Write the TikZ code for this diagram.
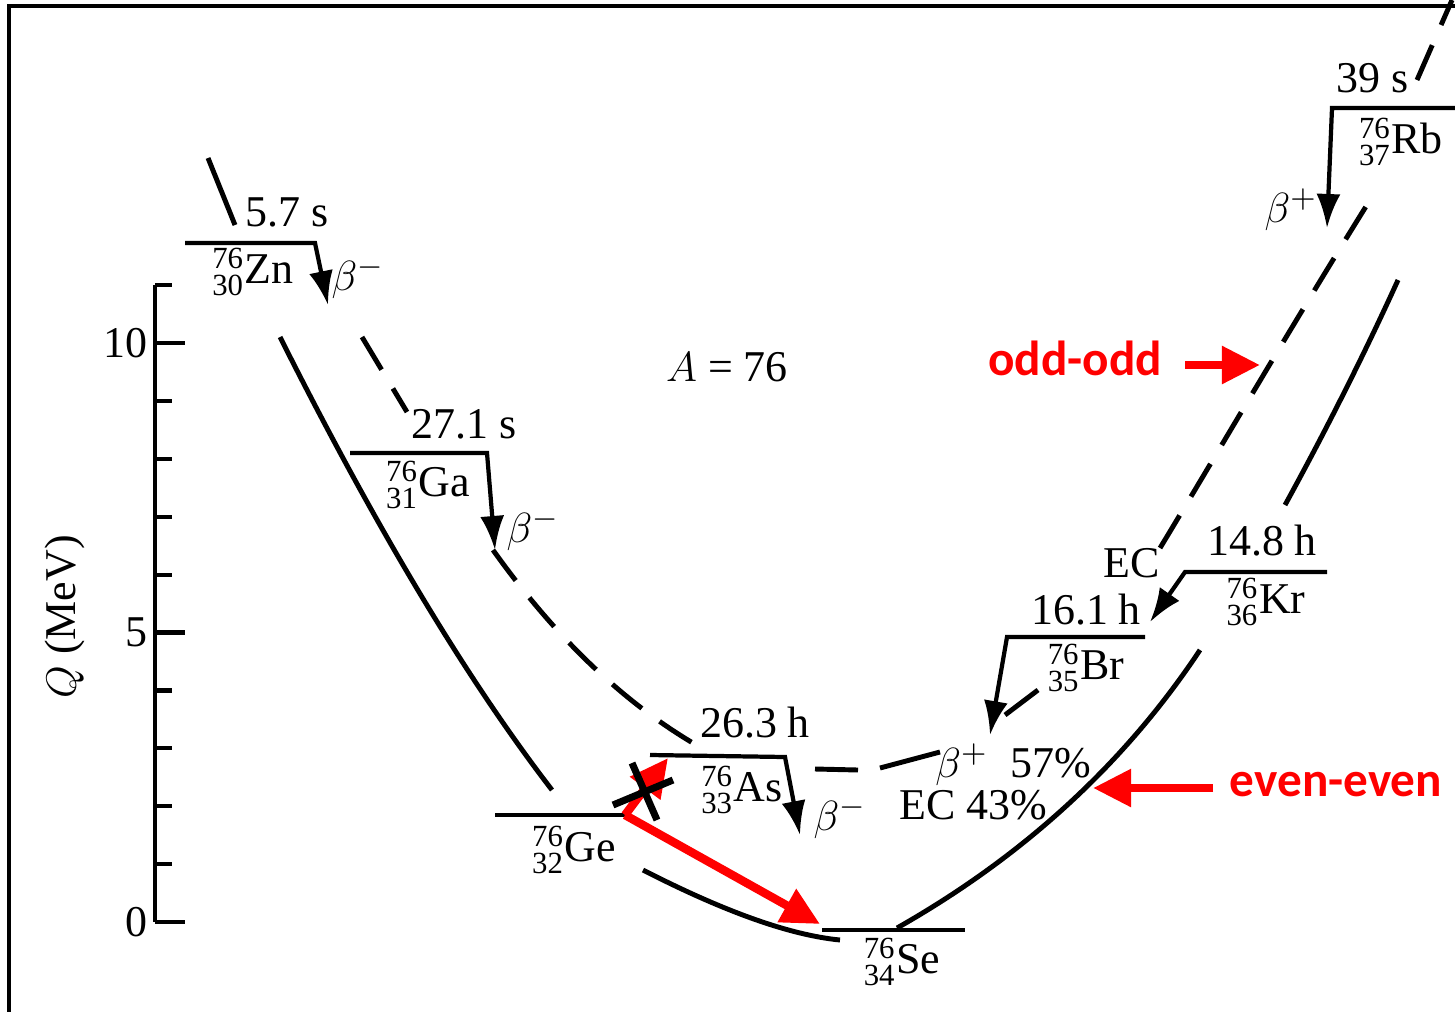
\documentclass[tikz,border=0pt]{standalone}
\usepackage{amsmath}
\usepackage{fontspec}
\setmainfont{Liberation Serif}
\newfontfamily\calibfont{Carlito}
\usetikzlibrary{arrows.meta,positioning,calc}

\newcommand{\nuc}[3]{\ensuremath{^{\text{#1}}_{\text{#2}}}#3}

\begin{document}
\begin{tikzpicture}[
    x=0.01cm, y=-0.01cm,
    lbl/.style={font=\fontsize{12.5}{14}\selectfont, inner sep=1pt},
    lvl/.style={line width=1.2pt},
    decay/.style={line width=1.2pt, -{Latex[length=3.4mm, width=2.4mm]}},
    ee/.style={line width=1.4pt},
    oo/.style={line width=1.4pt, dash pattern=on 0.38cm off 0.22cm},
    note/.style={text=red, font=\calibfont\bfseries\fontsize{14}{16}\selectfont},
    redarr/.style={red, line width=2.4pt, -{Triangle[length=3.8mm, width=3.6mm]}},
    cross/.style={line width=2pt}
]
\useasboundingbox (0,0) rectangle (1455,1012);
\draw[line width=1.4pt] (1455,6) -- (9,6) -- (9,1012);

\coordinate (ax-top) at (155,285); \coordinate (ax-bot) at (155,922);
\draw[lvl] (ax-top) -- (ax-bot);
\foreach \v in {0,...,11} {\draw[lvl] (155,{922-57.9*\v}) -- ++(17,0);}
\foreach \v in {0,5,10} {
  \draw[lvl] (155,{922-57.9*\v}) -- ++(30,0);
  \node[lbl, anchor=east] (tk\v) at (152,{922-57.9*\v}) {\v};
}
\node[lbl, rotate=90] (qlab) at (65,617) {$Q$ (MeV)};

\coordinate (zn-l) at (185,243); \coordinate (zn-r) at (315,243); \coordinate (zn-e) at (328,305);
\coordinate (ga-l) at (350,453); \coordinate (ga-r) at (487,453); \coordinate (ga-e) at (495,550);
\coordinate (ge-l) at (495,815); \coordinate (ge-r) at (625,815);
\coordinate (as-l) at (650,755); \coordinate (as-r) at (785,757); \coordinate (as-e) at (800,835);
\coordinate (se-l) at (822,930); \coordinate (se-r) at (965,930);
\coordinate (br-l) at (1007,637); \coordinate (br-r) at (1145,637); \coordinate (br-e) at (990,735);
\coordinate (kr-l) at (1185,572); \coordinate (kr-r) at (1327,572); \coordinate (kr-e) at (1150,622);
\coordinate (rb-l) at (1332,108); \coordinate (rb-r) at (1455,108); \coordinate (rb-e) at (1327,228);

\draw[decay] (zn-l) -- (zn-r) -- (zn-e);
\draw[decay] (ga-l) -- (ga-r) -- (ga-e);
\draw[lvl] (ge-l) -- (ge-r);
\draw[decay] (as-l) -- (as-r) -- (as-e);
\draw[lvl] (se-l) -- (se-r);
\draw[decay] (br-r) -- (br-l) -- (br-e);
\draw[decay] (kr-r) -- (kr-l) -- (kr-e);
\draw[decay] (rb-r) -- (rb-l) -- (rb-e);

\node[lbl] (zn-t) at (287,212) {5.7 s};
\node[lbl] (zn) at (253,272) {\nuc{76}{30}{Zn}};
\node[lbl] (zn-d) at (358,278) {$\beta^-$};
\node[lbl] (ga-t) at (464,424) {27.1 s};
\node[lbl] (ga) at (428,485) {\nuc{76}{31}{Ga}};
\node[lbl] (ga-d) at (533,530) {$\beta^-$};
\node[lbl] (as-t) at (755,723) {26.3 h};
\node[lbl] (as) at (742,790) {\nuc{76}{33}{As}};
\node[lbl] (as-d) at (840,818) {$\beta^-$};
\node[lbl] (ge) at (574,850) {\nuc{76}{32}{Ge}};
\node[lbl] (se) at (902,962) {\nuc{76}{34}{Se}};
\node[lbl] (br-t) at (1086,610) {16.1 h};
\node[lbl] (br) at (1086,668) {\nuc{76}{35}{Br}};
\node[lbl] (br-d1) at (1013,765) {$\beta^+$\ \ 57\%};
\node[lbl] (br-d2) at (973,805) {EC 43\%};
\node[lbl] (kr-t) at (1262,541) {14.8 h};
\node[lbl] (kr) at (1266,602) {\nuc{76}{36}{Kr}};
\node[lbl] (kr-d) at (1132,563) {EC};
\node[lbl] (rb-t) at (1373,78) {39 s};
\node[lbl] (rb) at (1401,142) {\nuc{76}{37}{Rb}};
\node[lbl] (rb-d) at (1291,210) {$\beta^+$};
\node[lbl] (mass) at (727,367) {$A$ = 76};

\draw[ee] (208,158) -- (235,225);
\draw[ee] (280,337) .. controls (375,526) and (465,677) .. (552,790);
\draw[ee] (643,870) .. controls (723,911) and (789,935) .. (840,940);
\draw[ee] (897,928) .. controls (1024,856) and (1125,763) .. (1200,650);
\draw[ee] (1285,505) .. controls (1325,432) and (1363,357) .. (1398,280);

\draw[oo] (362,337) -- (407,412);
\draw[oo] (493,550) .. controls (558,641) and (628,707) .. (705,750);
\draw[ee] (815,769) -- (858,770);
\draw[ee] (880,768) -- (940,752);
\draw[ee] (1005,715) -- (1038,690);
\draw[oo] (1160,548) .. controls (1220,449) and (1287,333) .. (1370,200);
\draw[oo] (1417,80) -- (1452,0);

\node[note] (oo-lab) at (1075,358) {odd-odd};
\coordinate (oo-tail) at (1185,365); \coordinate (oo-tip) at (1260,365);
\draw[redarr] (oo-tail) -- (oo-tip);
\node[note] (ee-lab) at (1336,785) {even-even};
\coordinate (ee-tail) at (1213,788); \coordinate (ee-tip) at (1093,788);
\draw[redarr] (ee-tail) -- (ee-tip);

\coordinate (as-hit) at (668,758); \coordinate (se-hit) at (820,924);
\draw[redarr] (ge-r) -- (as-hit);
\draw[redarr] (ge-r) -- (se-hit);
\draw[cross] (613,805) -- (673,780);
\draw[cross] (632,763) -- (657,820);
\end{tikzpicture}
\end{document}
